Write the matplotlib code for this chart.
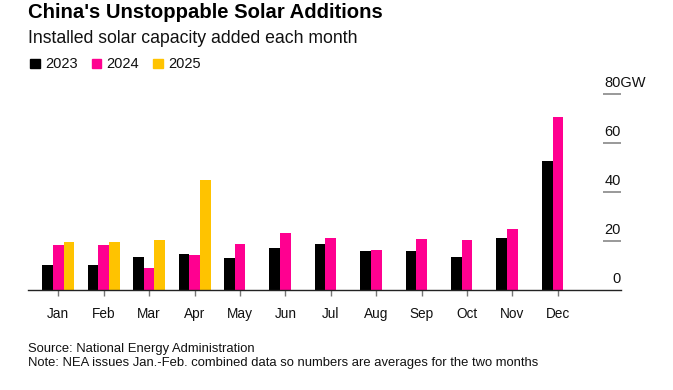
import matplotlib
matplotlib.use("Agg")
import matplotlib.pyplot as plt
from matplotlib.patches import Rectangle
import numpy as np

# monthly solar additions, GW
months = ["Jan", "Feb", "Mar", "Apr", "May", "Jun", "Jul", "Aug", "Sep", "Oct", "Nov", "Dec"]
y2023 = [10.0, 10.0, 13.3, 14.6, 12.9, 17.0, 18.7, 15.8, 15.7, 13.4, 21.1, 52.7]
y2024 = [18.3, 18.3, 8.9, 14.2, 18.9, 23.1, 21.0, 16.4, 20.7, 20.3, 24.7, 70.6]
y2025 = [19.6, 19.6, 20.2, 45.0]
yticks = [0, 20, 40, 60, 80]

series = [("2023", y2023, "#000000"), ("2024", y2024, "#ff0090"), ("2025", y2025, "#ffc300")]

W, H = 673, 390
plt.rcParams['font.family'] = ['Liberation Sans', 'DejaVu Sans']

fig = plt.figure(figsize=(W / 100, H / 100), dpi=100)

def fx(px):
    return px / W

def fy(py):
    return 1 - py / H

# axes placed in pixels: left 28, right 621, baseline 290, 80GW at 93.7
ax = fig.add_axes([fx(28.3), fy(290), fx(621 - 28.3), (290 - 93.7) / H])
ax.set_xlim(-0.66, 12.39)
ax.set_ylim(0, 80)

bw = 0.235
for i, (name, vals, col) in enumerate(series):
    x = np.arange(len(vals)) + (i - 1) * bw
    ax.bar(x, vals, width=bw, color=col, linewidth=0, zorder=2)

# short gridlines at the right edge with labels above them
for v in yticks[1:]:
    ax.hlines(v, 12.0, 12.39, color="#888888", linewidth=1.2, clip_on=False)
for v in yticks:
    if v == 80:
        ax.annotate("80GW", (12.0, v), xytext=(0.5, 5), textcoords="offset points",
                    ha="left", va="baseline", fontsize=10.5, color="#111111", annotation_clip=False)
    else:
        ax.annotate(str(v), (12.39, v), xytext=(0, 5), textcoords="offset points",
                    ha="right", va="baseline", fontsize=10.5, color="#111111", annotation_clip=False)

for s in ["top", "right", "left"]:
    ax.spines[s].set_visible(False)
ax.spines["bottom"].set_color("#222222")
ax.spines["bottom"].set_linewidth(1.0)
ax.set_yticks([])
ax.set_xticks(range(12))
ax.set_xticklabels(months, fontsize=9.8, color="#111111")
ax.tick_params(axis="x", length=4, width=1, color="#777777", pad=8)

# title block
fig.text(fx(28), fy(17.7), "China's Unstoppable Solar Additions", fontsize=14.6,
         fontweight="bold", ha="left", va="baseline")
fig.text(fx(28.5), fy(43.3), "Installed solar capacity added each month", fontsize=12.7,
         ha="left", va="baseline", color="#111111")

# legend
legend_pos = [(30, 45.7), (91.7, 106.7), (153.3, 168.3)]
for (name, vals, col), (sx, tx) in zip(series, legend_pos):
    fig.patches.append(Rectangle((fx(sx), fy(67.7)), fx(9.5), 9 / H, color=col,
                                 transform=fig.transFigure, figure=fig))
    fig.text(fx(tx), fy(67.7), name, fontsize=10.5, ha="left", va="baseline", color="#111111")

# footer
fig.text(fx(28), fy(352), "Source: National Energy Administration", fontsize=9.4,
         ha="left", va="baseline", color="#111111")
fig.text(fx(28), fy(366), "Note: NEA issues Jan.-Feb. combined data so numbers are averages for the two months",
         fontsize=9.4, ha="left", va="baseline", color="#111111")

fig.savefig("out.png", dpi=100)
